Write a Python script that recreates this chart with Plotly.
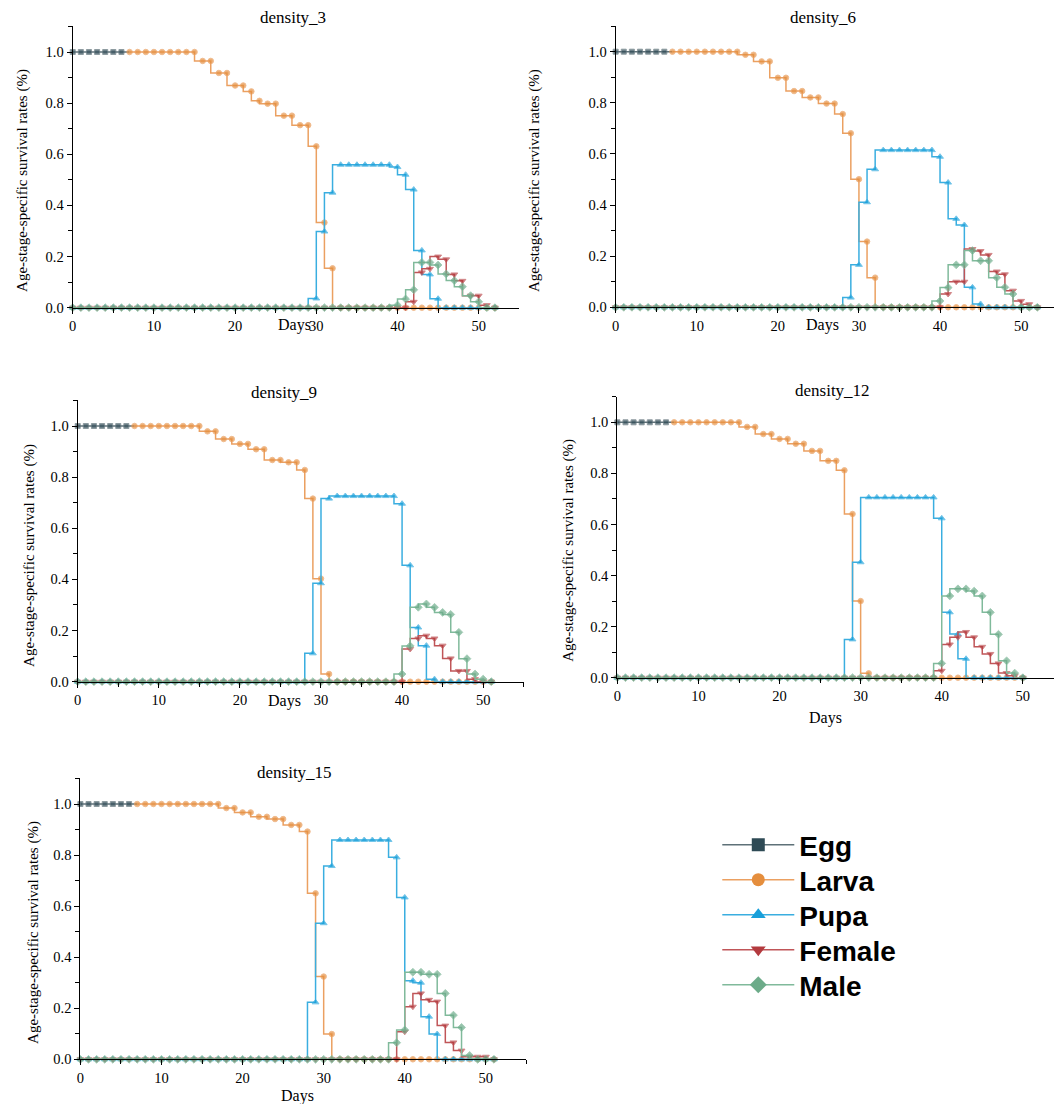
import plotly.graph_objects as go

# ---------------- data ----------------
panel_titles = ["density_3", "density_6", "density_9", "density_12", "density_15"]
stage_names = ["Egg", "Larva", "Pupa", "Female", "Male"]
x_ticks = [0, 10, 20, 30, 40, 50]
y_ticks = [0.0, 0.2, 0.4, 0.6, 0.8, 1.0]

egg_start, larva_start, adult_start = 0, 7, 0
egg_vals = [1.0, 1.0, 1.0, 1.0, 1.0, 1.0, 1.0, 1.0]

# density_3 (days up to 52)
larva_d3 = [1.0] * 9 + [0.965, 0.965, 0.918, 0.918, 0.869, 0.869, 0.846, 0.809, 0.798, 0.798,
                        0.751, 0.751, 0.714, 0.714, 0.631, 0.333, 0.154] + [0.0] * 20
pupa_d3 = [0.0] * 30 + [0.036, 0.298, 0.45] + [0.559] * 7 + [0.55, 0.52, 0.462, 0.224, 0.13, 0.035] + [0.0] * 7
female_d3 = [0.0] * 42 + [0.023, 0.138, 0.152, 0.2, 0.189, 0.13, 0.105, 0.047, 0.047, 0.01, 0.0]
male_d3 = [0.0] * 40 + [0.01, 0.034, 0.07, 0.177, 0.177, 0.167, 0.132, 0.106, 0.082, 0.047, 0.023, 0.0, 0.0]

# density_6 (days up to 52)
larva_d6 = [1.0] * 9 + [0.988, 0.988, 0.962, 0.962, 0.898, 0.898, 0.846, 0.846, 0.821, 0.821,
                        0.797, 0.797, 0.756, 0.681, 0.501, 0.257, 0.116] + [0.0] * 20
pupa_d6 = [0.0] * 29 + [0.038, 0.166, 0.411, 0.54] + [0.615] * 7 + [0.589, 0.488, 0.346, 0.322, 0.078, 0.013] + [0.0] * 7
female_d6 = [0.0] * 41 + [0.052, 0.1, 0.1, 0.228, 0.22, 0.205, 0.14, 0.129, 0.065, 0.025, 0.012, 0.0]
male_d6 = [0.0] * 40 + [0.025, 0.077, 0.166, 0.166, 0.222, 0.182, 0.182, 0.116, 0.078, 0.052, 0.0, 0.0, 0.0]

# density_9 (days up to 51)
larva_d9 = [1.0] * 9 + [0.979, 0.979, 0.949, 0.949, 0.93, 0.93, 0.909, 0.909, 0.867, 0.867,
                        0.858, 0.858, 0.828, 0.716, 0.403, 0.03] + [0.0] * 20
pupa_d9 = [0.0] * 29 + [0.111, 0.385, 0.716] + [0.726] * 8 + [0.696, 0.455, 0.212, 0.141, 0.01] + [0.0] * 7
female_d9 = [0.0] * 41 + [0.128, 0.169, 0.18, 0.169, 0.141, 0.091, 0.042, 0.042, 0.01, 0.0, 0.0]
male_d9 = [0.0] * 40 + [0.03, 0.14, 0.291, 0.304, 0.291, 0.271, 0.263, 0.193, 0.09, 0.03, 0.01, 0.0]

# density_12 (days up to 50)
larva_d12 = [1.0] * 9 + [0.982, 0.982, 0.954, 0.954, 0.935, 0.935, 0.916, 0.916, 0.888, 0.888,
                         0.849, 0.849, 0.812, 0.641, 0.3, 0.017] + [0.0] * 19
pupa_d12 = [0.0] * 29 + [0.15, 0.452] + [0.706] * 9 + [0.624, 0.256, 0.171, 0.074] + [0.0] * 7
female_d12 = [0.0] * 40 + [0.027, 0.13, 0.158, 0.179, 0.158, 0.121, 0.093, 0.056, 0.018, 0.008, 0.0]
male_d12 = [0.0] * 40 + [0.056, 0.32, 0.348, 0.348, 0.339, 0.32, 0.256, 0.17, 0.066, 0.018, 0.0]

# density_15 (days up to 51)
larva_d15 = [1.0] * 11 + [0.984, 0.984, 0.967, 0.967, 0.95, 0.95, 0.941, 0.941, 0.918, 0.918,
                          0.892, 0.65, 0.324, 0.099] + [0.0] * 20
pupa_d15 = [0.0] * 29 + [0.223, 0.533, 0.757] + [0.859] * 7 + [0.791, 0.634, 0.308, 0.3, 0.167, 0.099] + [0.0] * 7
female_d15 = [0.0] * 40 + [0.108, 0.206, 0.258, 0.233, 0.226, 0.132, 0.066, 0.034, 0.01, 0.01, 0.01, 0.0]
male_d15 = [0.0] * 39 + [0.065, 0.115, 0.341, 0.341, 0.333, 0.333, 0.258, 0.173, 0.125, 0.015, 0.0, 0.0, 0.0]

larva_all = [larva_d3, larva_d6, larva_d9, larva_d12, larva_d15]
pupa_all = [pupa_d3, pupa_d6, pupa_d9, pupa_d12, pupa_d15]
female_all = [female_d3, female_d6, female_d9, female_d12, female_d15]
male_all = [male_d3, male_d6, male_d9, male_d12, male_d15]

# ---------------- styling ----------------
REF_W, REF_H = 1054, 1104   # reference picture size (all positions below are in its pixels)
W, H = 1054, 1112           # figure size (the photographed page is 1112 tall)
marker_colors = ["#2E4A55", "#E58E3D", "#189FDA", "#B33A3E", "#6CAB89"]
line_colors = ["#5E7178", "#EBA061", "#3AAEE0", "#C05558", "#80BA9B"]
symbols = ["square", "circle", "triangle-up", "triangle-down", "diamond"]
sizes = [5, 5.5, 6, 6, 6]
SERIF = "Liberation Serif, Times New Roman, serif"

# panel geometry: (x of day 0, px per day, x right edge, y of 0, px per unit)
panels = [
    (69.0, 8.15, 517.0, 307.7, 255.7),
    (614.0, 8.14, 1054.0, 307.3, 255.6),
    (74.0, 8.14, 521.7, 681.7, 255.7),
    (615.7, 8.14, 1054.0, 677.7, 255.4),
    (76.7, 8.14, 524.4, 1059.3, 255.3),
]
title_pos = [(290, 18), (822, 17), (281, 392), (832, 390), (292, 772)]
days_pos = [(292, 325), (822, 325), (282, 701), (825, 718), (295, 1096)]
ylab_pos = [(18, 180), (532, 180), (25, 555), (566, 550), (29, 932)]
legend_rows = [845, 880, 915, 950, 985]


def px(x):
    return x / REF_W


def py(y):
    return 1 - y / REF_H


fig = go.Figure()
layout = dict(
    width=W, height=H, margin=dict(l=0, r=0, t=0, b=0),
    paper_bgcolor="white", plot_bgcolor="white", showlegend=True,
)
annotations = []

for i in range(5):
    x0, ppd, xr, y0, ppu = panels[i]
    xr_eff = min(xr, REF_W)
    xmax = (xr_eff - x0) / ppd
    ytop = y0 - 1.1 * ppu
    sfx = "" if i == 0 else str(i + 1)
    xa, ya = "x" + sfx, "y" + sfx
    axis_common = dict(
        showline=True, linecolor="black", linewidth=1.2, showgrid=False, zeroline=False,
        ticks="outside", ticklen=5, tickwidth=1.1, tickcolor="black",
        tickfont=dict(family=SERIF, size=14.5, color="black"),
    )
    layout["xaxis" + sfx] = dict(
        axis_common, domain=[px(x0), px(xr_eff)], range=[0, xmax], anchor=ya,
        tickmode="array", tickvals=x_ticks,
        minor=dict(dtick=5, tick0=0, ticks="outside", ticklen=4, tickcolor="black"),
    )
    layout["yaxis" + sfx] = dict(
        axis_common, domain=[py(y0), py(ytop)], range=[0, 1.1], anchor=xa,
        tickmode="array", tickvals=y_ticks, ticktext=["%.1f" % v for v in y_ticks],
        minor=dict(dtick=0.1, tick0=0, ticks="outside", ticklen=4, tickcolor="black"),
    )

    series = [
        (egg_start, egg_vals),
        (larva_start, larva_all[i]),
        (adult_start, pupa_all[i]),
        (adult_start, female_all[i]),
        (adult_start, male_all[i]),
    ]
    for s, (start, vals) in enumerate(series):
        xs = list(range(start, start + len(vals)))
        msize = [sizes[s]] * len(vals)
        if s == 0:
            msize[-1] = 0
        fig.add_trace(go.Scatter(
            x=xs, y=vals, mode="lines+markers", line_shape="vh",
            line=dict(color=line_colors[s], width=1.5),
            marker=dict(symbol=symbols[s], size=msize, color=marker_colors[s]),
            cliponaxis=False, showlegend=False, xaxis=xa, yaxis=ya,
            name=stage_names[s],
        ))

    tx, ty = title_pos[i]
    annotations.append(dict(text=panel_titles[i], x=px(tx), y=py(ty), xref="paper", yref="paper",
                            showarrow=False, xanchor="center", yanchor="middle",
                            font=dict(family=SERIF, size=17, color="black")))
    dx, dy = days_pos[i]
    annotations.append(dict(text="Days", x=px(dx), y=py(dy), xref="paper", yref="paper",
                            showarrow=False, xanchor="center", yanchor="middle",
                            font=dict(family=SERIF, size=16, color="black")))
    lx, ly = ylab_pos[i]
    annotations.append(dict(text="Age-stage-specific survival rates (%)", x=px(lx), y=py(ly),
                            xref="paper", yref="paper", showarrow=False, textangle=-90,
                            xanchor="center", yanchor="middle",
                            font=dict(family=SERIF, size=15, color="black")))

# legend-only entries, one legend box per stage for exact row spacing
for s in range(5):
    lg = "legend" if s == 0 else "legend%d" % (s + 1)
    fig.add_trace(go.Scatter(
        x=[None], y=[None], mode="lines+markers", name=stage_names[s],
        line=dict(color=line_colors[s], width=1.5),
        marker=dict(symbol=symbols[s], size=13, color=marker_colors[s]),
        showlegend=True, xaxis="x", yaxis="y", legend=lg,
    ))
    layout[lg] = dict(
        x=px(716), y=py(legend_rows[s]), xanchor="left", yanchor="middle",
        font=dict(family="Liberation Sans, Arial, sans-serif", size=28, color="black", weight="bold"),
        bgcolor="rgba(0,0,0,0)", itemsizing="trace", itemwidth=72,
    )

layout["annotations"] = annotations
fig.update_layout(**layout)
fig.write_html("out.html", config={"displayModeBar": False},
               post_script="document.body.style.margin='0';")
